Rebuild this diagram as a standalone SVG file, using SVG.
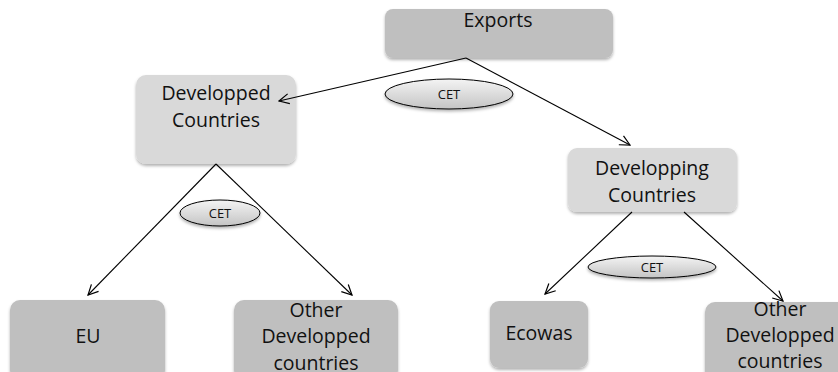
<svg xmlns="http://www.w3.org/2000/svg" width="838" height="372" viewBox="0 0 838 372">
  <defs>
    <linearGradient id="ovalFill" x1="0" y1="0" x2="0" y2="1">
      <stop offset="0" stop-color="#f4f4f4"/>
      <stop offset="1" stop-color="#c4c4c4"/>
    </linearGradient>
    <filter id="shadow" x="-10%" y="-10%" width="120%" height="130%">
      <feDropShadow dx="0" dy="2" stdDeviation="1.5" flood-color="#000" flood-opacity="0.3"/>
    </filter>
    <marker id="arrow" viewBox="0 0 12 12" refX="11" refY="6" markerWidth="12" markerHeight="12" markerUnits="userSpaceOnUse" orient="auto">
      <path d="M1,1 L11,6 L1,11" fill="none" stroke="#000" stroke-width="1.2"/>
    </marker>
  </defs>
  <style>
    .box { stroke: none; filter: url(#shadow); }
    .dark { fill: #bfbfbf; }
    .light { fill: #d9d9d9; }
    .oval { fill: url(#ovalFill); stroke: #000; stroke-width: 1; filter: url(#shadow); }
    .lbl { font-family: "Open Sans", "Liberation Sans", sans-serif; font-size: 19.5px; fill: #111; text-anchor: middle; }
    .tag { font-family: "Open Sans", "Liberation Sans", sans-serif; font-size: 13px; fill: #111; text-anchor: middle; }
    .edge { fill: none; stroke: #000; stroke-width: 1.1; marker-end: url(#arrow); }
  </style>

  <rect width="838" height="372" fill="#fff"/>

  <g id="exports">
    <rect class="box dark" x="385" y="9" width="228" height="49" rx="8"/>
    <text class="lbl" x="498" y="27">Exports</text>
  </g>

  <g id="developped">
    <rect class="box light" x="136" y="75" width="160" height="89" rx="10"/>
    <text class="lbl" x="216" y="100">Developped</text>
    <text class="lbl" x="216" y="127">Countries</text>
  </g>

  <g id="developping">
    <rect class="box light" x="568" y="148" width="169" height="64" rx="9"/>
    <text class="lbl" x="652" y="175">Developping</text>
    <text class="lbl" x="652" y="202">Countries</text>
  </g>

  <g id="eu">
    <rect class="box dark" x="10" y="300" width="155" height="80" rx="10"/>
    <text class="lbl" x="88" y="343">EU</text>
  </g>

  <g id="other-developped-1">
    <rect class="box dark" x="234" y="300" width="164" height="80" rx="10"/>
    <text class="lbl" x="316" y="317">Other</text>
    <text class="lbl" x="316" y="343">Developped</text>
    <text class="lbl" x="316" y="370">countries</text>
  </g>

  <g id="ecowas">
    <rect class="box dark" x="490" y="301" width="98" height="67" rx="9"/>
    <text class="lbl" x="539" y="340">Ecowas</text>
  </g>

  <g id="other-developped-2">
    <rect class="box dark" x="705" y="302" width="145" height="80" rx="10"/>
    <text class="lbl" x="780" y="316">Other</text>
    <text class="lbl" x="780" y="342">Developped</text>
    <text class="lbl" x="780" y="368">countries</text>
  </g>

  <!-- connectors, drawn over the boxes so arrow tips stay visible -->
  <g id="connectors">
    <line class="edge" x1="466" y1="58" x2="279" y2="101"/>
    <line class="edge" x1="466" y1="58" x2="630" y2="145"/>
    <line class="edge" x1="216" y1="164" x2="88" y2="295"/>
    <line class="edge" x1="216" y1="164" x2="352" y2="295"/>
    <line class="edge" x1="632" y1="212" x2="545" y2="294"/>
    <line class="edge" x1="684" y1="212" x2="783" y2="301"/>
  </g>

  <g id="cet-1">
    <ellipse class="oval" cx="449" cy="94" rx="64" ry="15"/>
    <text class="tag" x="449" y="99">CET</text>
  </g>

  <g id="cet-2">
    <ellipse class="oval" cx="220" cy="213" rx="40" ry="13"/>
    <text class="tag" x="220" y="218">CET</text>
  </g>

  <g id="cet-3">
    <ellipse class="oval" cx="652" cy="267" rx="64" ry="11"/>
    <text class="tag" x="652" y="272">CET</text>
  </g>
</svg>
